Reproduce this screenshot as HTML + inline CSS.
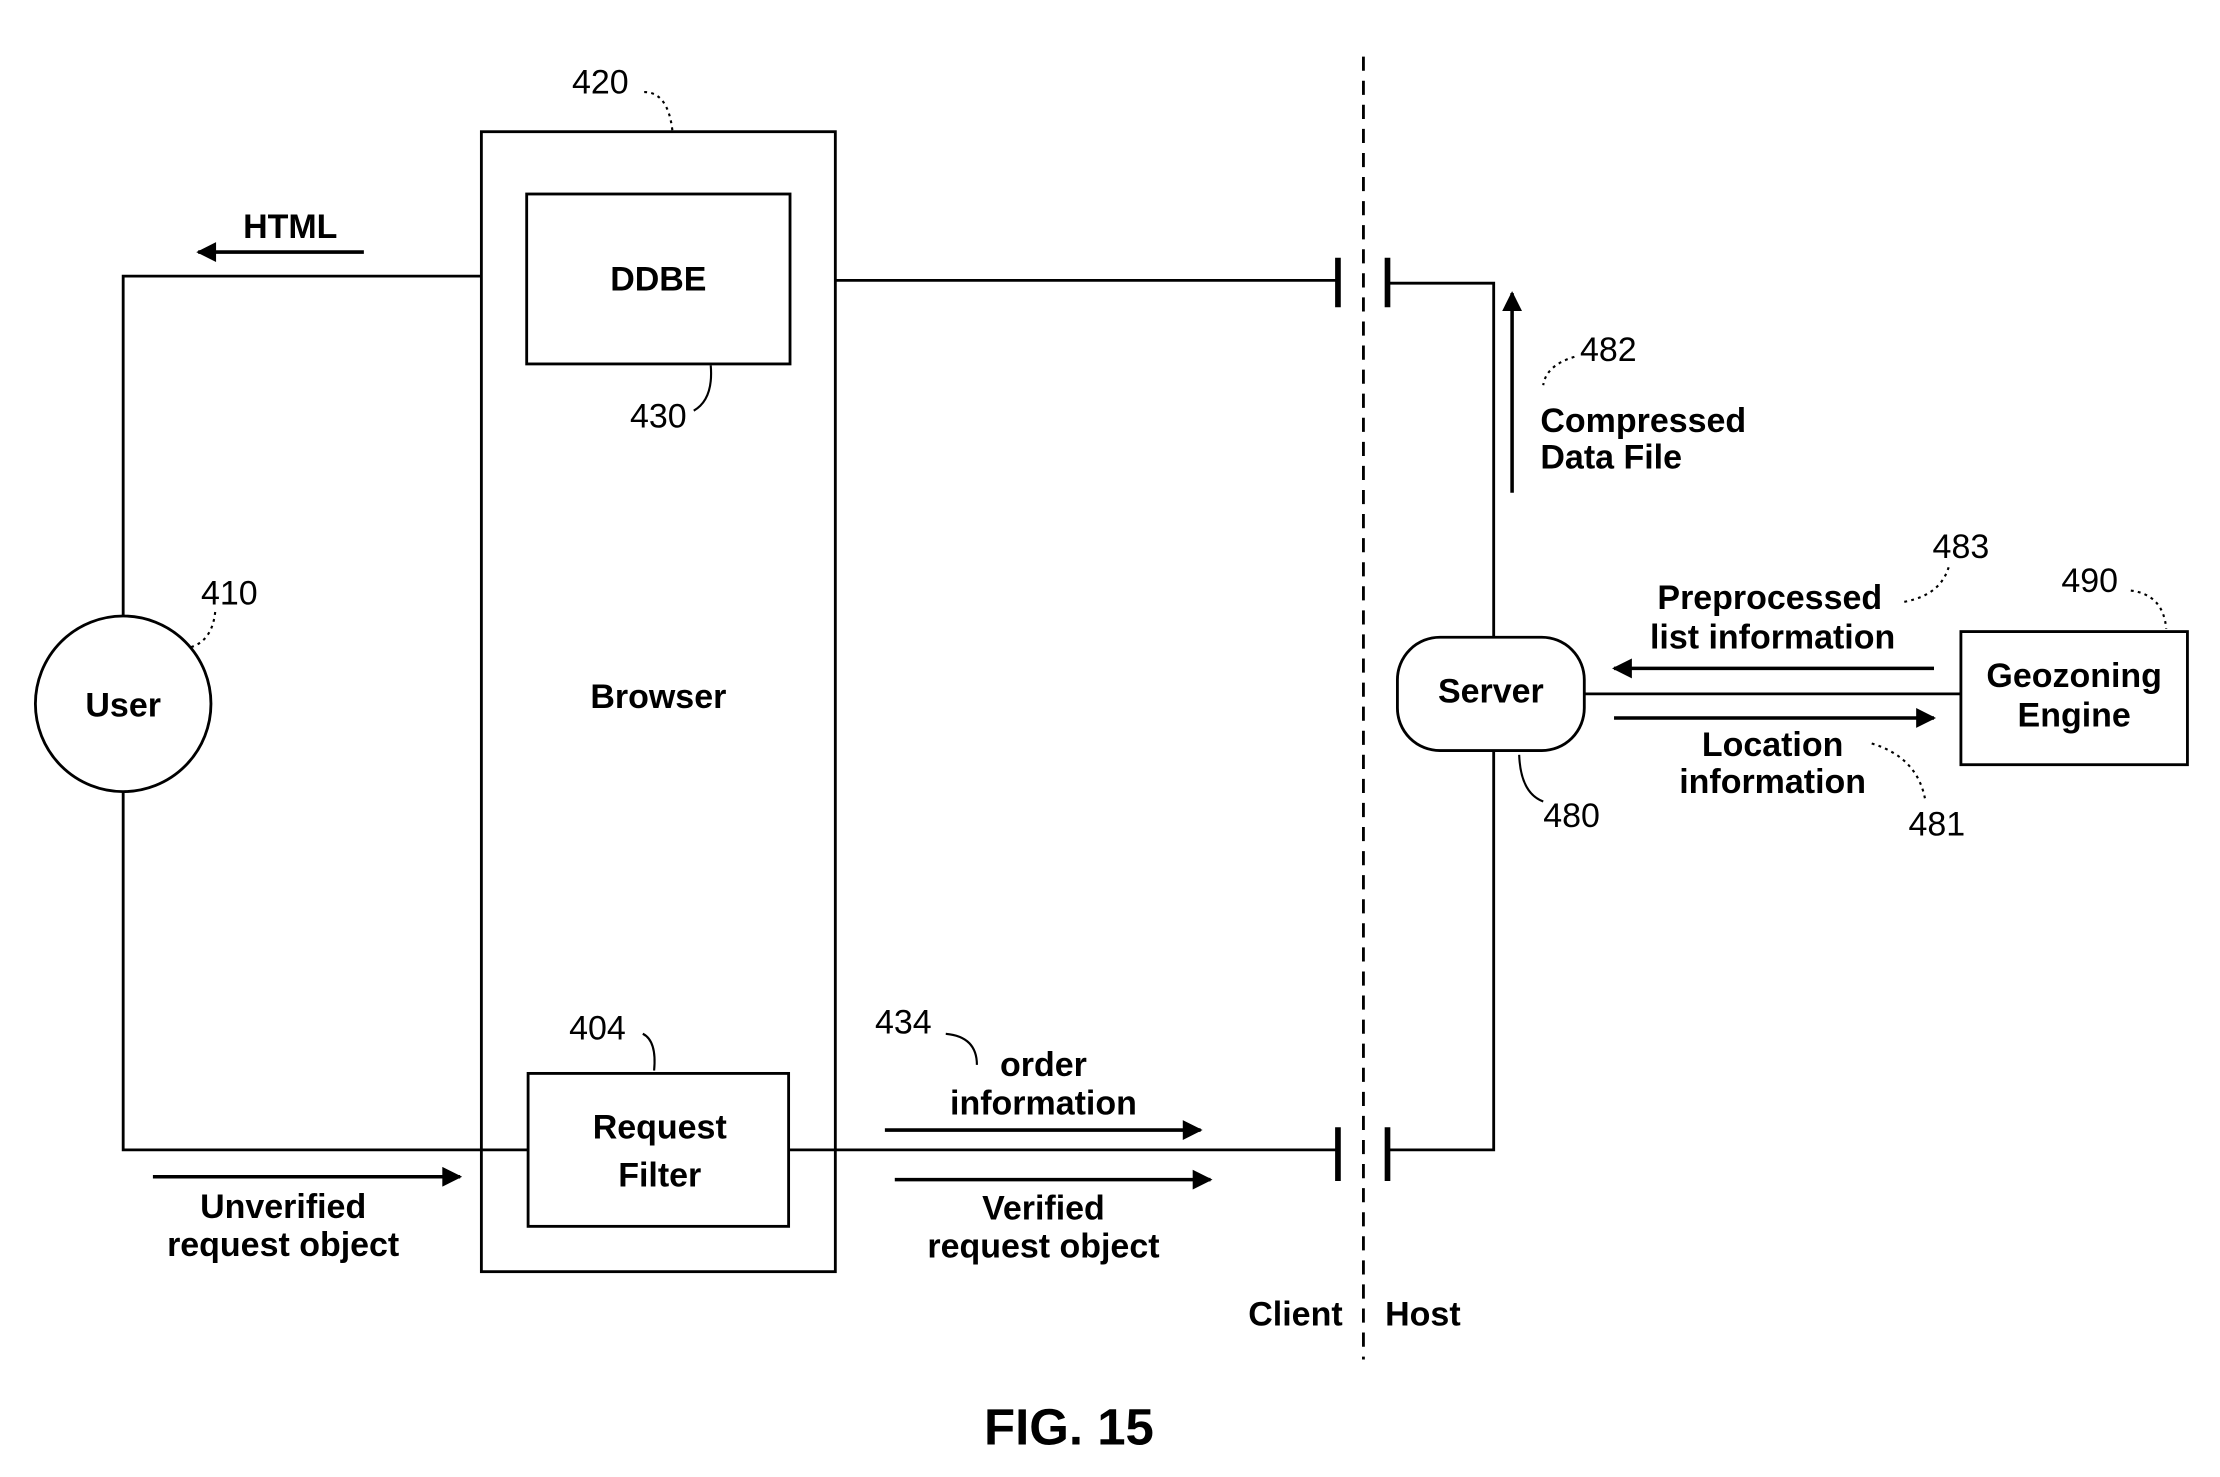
<!DOCTYPE html>
<html><head><style>html,body{margin:0;padding:0;background:#fff}svg{display:block}</style></head><body>
<svg width="2220" height="1477" viewBox="0 0 1568 1043" preserveAspectRatio="none" xmlns="http://www.w3.org/2000/svg" font-family="Liberation Sans, Arial, sans-serif">
<defs><marker id="b" viewBox="0 0 10 10" refX="9" refY="5" markerWidth="18" markerHeight="14" orient="auto" markerUnits="userSpaceOnUse"><path d="M0,0 L10,5 L0,10z" fill="#000"/></marker></defs>
<g fill="none" stroke="#000" stroke-width="2">
<rect x="340" y="93" width="250" height="805"/>
<rect x="372" y="137" width="186" height="120"/>
<rect x="373" y="758" width="184" height="108"/>
<ellipse cx="87" cy="497" rx="62" ry="62"/>
<polyline points="87,435 87,195 340,195"/>
<polyline points="87,559 87,812 373,812"/>
<line x1="590" y1="198" x2="945" y2="198"/>
<line x1="557" y1="812" x2="945" y2="812"/>
<polyline points="980,200 1055,200 1055,450"/>
<polyline points="1055,530 1055,812 980,812"/>
<rect x="987" y="450" width="132" height="80" rx="30"/>
<rect x="1385" y="446" width="160" height="94"/>
<line x1="1119" y1="490" x2="1385" y2="490"/>
<line x1="963" y1="40" x2="963" y2="960" stroke-dasharray="10,7"/>
</g>
<g stroke="#000" stroke-width="4"><line x1="945" y1="182" x2="945" y2="217"/><line x1="980" y1="182" x2="980" y2="217"/><line x1="945" y1="796" x2="945" y2="834"/><line x1="980" y1="796" x2="980" y2="834"/></g>
<g stroke="#000" stroke-width="2.5" fill="none">
<line x1="257" y1="178" x2="140" y2="178" marker-end="url(#b)"/>
<line x1="108" y1="831" x2="325" y2="831" marker-end="url(#b)"/>
<line x1="625" y1="798" x2="848" y2="798" marker-end="url(#b)"/>
<line x1="632" y1="833" x2="855" y2="833" marker-end="url(#b)"/>
<line x1="1068" y1="348" x2="1068" y2="207" marker-end="url(#b)"/>
<line x1="1366" y1="472" x2="1140" y2="472" marker-end="url(#b)"/>
<line x1="1140" y1="507" x2="1366" y2="507" marker-end="url(#b)"/>
</g>
<g stroke="#000" stroke-width="1.5" fill="none">
<path d="M455,65 Q472,65 475,93" stroke-dasharray="2,3"/>
<path d="M490,290 Q504,282 502,258"/>
<path d="M135,457 Q150,452 152,432" stroke-dasharray="2,3"/>
<path d="M454,730 Q464,735 462,756"/>
<path d="M668,730 Q690,732 690,752"/>
<path d="M1112,252 Q1092,258 1090,272" stroke-dasharray="2,3"/>
<path d="M1073,533 Q1074,560 1090,566"/>
<path d="M1345,425 Q1372,420 1377,398" stroke-dasharray="2,3"/>
<path d="M1322,525 Q1355,535 1360,566" stroke-dasharray="2,3"/>
<path d="M1505,417 Q1528,420 1530,444" stroke-dasharray="2,3"/>
</g>
<g font-size="24" font-weight="bold" text-anchor="middle" fill="#000">
<text x="465" y="205">DDBE</text>
<text x="465" y="500">Browser</text>
<text x="466" y="804">Request</text>
<text x="466" y="838">Filter</text>
<text x="87" y="506">User</text>
<text x="205" y="168">HTML</text>
<text x="200" y="860">Unverified</text>
<text x="200" y="887">request object</text>
<text x="737" y="760">order</text>
<text x="737" y="787">information</text>
<text x="737" y="861">Verified</text>
<text x="737" y="888">request object</text>
<text x="1053" y="496">Server</text>
<text x="1465" y="485">Geozoning</text>
<text x="1465" y="513">Engine</text>
<text x="1250" y="430">Preprocessed</text>
<text x="1252" y="458">list information</text>
<text x="1252" y="534">Location</text>
<text x="1252" y="560">information</text>
<text x="1088" y="305" text-anchor="start">Compressed</text>
<text x="1088" y="331" text-anchor="start">Data File</text>
<text x="915" y="936">Client</text>
<text x="1005" y="936">Host</text>
<text x="755" y="1020" font-size="36">FIG. 15</text>
</g>
<g font-size="24" text-anchor="middle" fill="#000">
<text x="424" y="66">420</text>
<text x="465" y="302">430</text>
<text x="162" y="427">410</text>
<text x="422" y="734">404</text>
<text x="638" y="730">434</text>
<text x="1136" y="255">482</text>
<text x="1110" y="584">480</text>
<text x="1385" y="394">483</text>
<text x="1368" y="590">481</text>
<text x="1476" y="418">490</text>
</g>
</svg>
</body></html>
